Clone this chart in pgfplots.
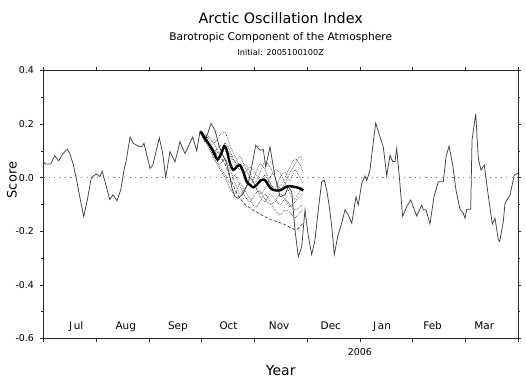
\documentclass[border=0pt]{standalone}
\usepackage{fontspec}
\setmainfont{DejaVu Sans}
\usepackage{pgfplots}
\pgfplotsset{compat=1.18}
\usepackage{pgfplotstable}

% x is measured in months from 1 July 2005
\pgfplotstableread{
m v
0.000 0.059
0.034 0.051
0.137 0.051
0.212 0.082
0.288 0.063
0.370 0.090
0.451 0.107
0.497 0.090
0.560 0.053
0.622 -0.002
0.687 -0.071
0.763 -0.145
0.831 -0.083
0.907 0.000
1.002 0.014
1.066 0.004
1.115 0.024
1.191 -0.033
1.256 -0.081
1.318 -0.064
1.394 -0.086
1.464 -0.046
1.527 0.029
1.571 0.066
1.641 0.152
1.703 0.128
1.798 0.118
1.863 0.115
1.906 0.128
2.020 0.035
2.071 0.045
2.197 0.149
2.261 0.090
2.318 0.001
2.399 0.097
2.494 0.059
2.589 0.134
2.684 0.090
2.830 0.152
2.906 0.100
2.968 0.171
3.063 0.134
3.177 0.202
3.253 0.177
3.329 0.120
3.386 0.090
3.462 0.060
3.519 0.020
3.576 -0.040
3.633 -0.071
3.695 -0.077
3.784 -0.060
3.885 -0.020
3.949 0.040
4.025 0.121
4.107 0.103
4.169 0.105
4.215 0.041
4.296 0.115
4.391 0.004
4.486 -0.071
4.581 -0.064
4.643 -0.033
4.708 -0.052
4.770 -0.195
4.833 -0.294
4.898 -0.257
4.960 -0.120
5.023 -0.219
5.087 -0.287
5.150 -0.232
5.212 -0.120
5.277 -0.015
5.326 -0.009
5.372 -0.046
5.421 -0.108
5.467 -0.182
5.516 -0.287
5.580 -0.219
5.656 -0.170
5.719 -0.120
5.782 -0.139
5.846 -0.170
5.928 -0.071
5.971 -0.102
6.036 -0.021
6.098 0.006
6.131 -0.011
6.193 0.029
6.237 0.103
6.301 0.204
6.383 0.152
6.445 0.115
6.510 0.007
6.572 0.084
6.624 0.060
6.667 0.060
6.700 0.109
6.749 0.004
6.813 -0.145
6.889 -0.108
6.965 -0.083
7.079 -0.143
7.174 -0.102
7.204 -0.120
7.255 -0.120
7.331 -0.172
7.407 -0.071
7.489 -0.015
7.583 -0.015
7.635 0.078
7.692 0.118
7.762 0.047
7.824 -0.046
7.900 -0.118
7.963 -0.133
7.995 -0.151
8.027 -0.118
8.103 -0.118
8.128 0.140
8.198 0.239
8.247 0.072
8.299 0.028
8.361 0.047
8.426 -0.052
8.513 -0.173
8.564 -0.151
8.627 -0.232
8.653 -0.238
8.721 -0.164
8.754 -0.095
8.849 -0.064
8.930 0.010
8.995 0.016
}\observed

% ensemble members started 2005-10-01 00Z
\pgfplotstableread{
m a b c d e f g
2.968 0.17 0.17 0.17 0.17 0.17 0.17 0.17
3.063 0.16 0.15 0.15 0.15 0.16 0.14 0.16
3.158 0.14 0.11 0.13 0.11 0.12 0.10 0.15
3.253 0.13 0.06 0.10 0.08 0.10 0.07 0.12
3.348 0.16 0.05 0.09 0.04 0.12 0.03 0.09
3.443 0.17 0.07 0.10 0.01 0.11 0.00 0.13
3.538 0.12 0.03 0.08 -0.02 0.09 -0.04 0.10
3.632 0.08 -0.02 0.05 0.01 0.06 -0.06 0.06
3.727 0.04 -0.06 0.03 -0.03 0.04 -0.02 0.08
3.822 0.01 -0.04 0.05 -0.07 0.02 -0.05 0.04
3.917 -0.03 0.00 0.02 -0.09 0.04 -0.08 0.00
4.012 0.01 -0.03 -0.03 -0.06 0.02 -0.11 -0.02
4.107 0.05 -0.06 -0.07 -0.05 -0.01 -0.09 0.02
4.201 0.03 -0.04 -0.09 -0.08 0.01 -0.06 0.06
4.296 -0.02 0.00 -0.06 -0.10 -0.02 -0.09 0.04
4.391 -0.05 0.03 -0.08 -0.09 -0.04 -0.12 0.00
4.486 -0.03 0.02 -0.10 -0.06 0.00 -0.14 -0.04
4.581 0.00 -0.02 -0.08 -0.08 0.02 -0.12 -0.02
4.676 0.04 -0.06 -0.11 -0.10 -0.01 -0.13 0.02
4.770 0.07 -0.08 -0.09 -0.12 0.03 -0.15 0.05
4.865 0.05 -0.05 -0.07 -0.11 0.00 -0.13 0.08
4.922 0.02 -0.03 -0.06 -0.10 -0.02 -0.12 0.06
}\members

\pgfplotstableread{
m v
2.968 0.17
3.082 0.14
3.196 0.11
3.310 0.08
3.424 0.06
3.538 0.00
3.671 -0.06
3.823 -0.10
4.013 -0.125
4.146 -0.14
4.297 -0.155
4.448 -0.165
4.581 -0.175
4.714 -0.19
4.808 -0.193
4.922 -0.17
}\lowmember

\pgfplotstableread{
m v
2.968 0.171
3.001 0.167
3.063 0.146
3.126 0.128
3.190 0.109
3.253 0.084
3.304 0.068
3.367 0.088
3.429 0.118
3.475 0.103
3.538 0.053
3.600 0.029
3.665 0.041
3.727 0.047
3.790 0.022
3.854 -0.015
3.917 -0.027
3.980 -0.036
4.044 -0.027
4.126 -0.009
4.201 -0.009
4.264 -0.027
4.328 -0.043
4.423 -0.048
4.505 -0.046
4.581 -0.036
4.662 -0.031
4.727 -0.033
4.803 -0.036
4.865 -0.040
4.928 -0.048
}\ensmean

\begin{document}
\begin{tikzpicture}
\useasboundingbox (0,0) rectangle (526bp,383bp);
\begin{axis}[
  at={(43.5bp,44.5bp)}, anchor=south west,
  scale only axis, width=474.5bp, height=268bp,
  xmin=0, xmax=9, ymin=-0.6, ymax=0.4,
  clip mode=individual,
  axis line style={black!85, line width=0.8pt},
  tick align=outside, xtick pos=both, ytick pos=both,
  major tick length=3bp, minor tick length=2bp,
  tick style={black!85, line width=0.6pt},
  xtick={0,1,2,3,4,5,6,7,8,9},
  xticklabels={,,,,,,2006,,,},
  xticklabel style={font=\fontsize{9.5}{11}\selectfont, anchor=base, yshift=-14bp},
  extra x ticks={0.62,1.56,2.55,3.51,4.47,5.45,6.42,7.38,8.36},
  extra x tick labels={J\,ul,Aug,Sep,Oct,Nov,Dec,J\,an,Feb,Mar},
  extra x tick style={major tick length=0pt,
    xticklabel style={font=\fontsize{10.5}{12}\selectfont, anchor=base, yshift=23.1bp}},
  ytick={-0.6,-0.4,-0.2,0,0.2,0.4},
  yticklabels={-0.6,-0.4,-0.2,0.0,0.2,0.4},
  minor ytick={-0.5,-0.3,-0.1,0.1,0.3},
  yticklabel style={font=\fontsize{9.5}{11}\selectfont, anchor=east, xshift=-3bp},
  xlabel={Year},
  xlabel style={font=\fontsize{14}{16}\selectfont, at={(rel axis cs:0.5,0)}, anchor=base, yshift=-36.5bp},
  ylabel={Score},
  ylabel style={font=\fontsize{13}{15}\selectfont, at={(rel axis cs:0,0.591)}, anchor=center, yshift=31.5bp},
]
% zero reference
\addplot[gray, line width=0.7pt, dash pattern=on 1.2pt off 4.2pt, forget plot] coordinates {(0,0) (9,0)};
% ensemble members
\foreach \c in {a,b,c,d,e,f,g}{
  \addplot[black!80, line width=0.6pt, dash pattern=on 0.7pt off 1.1pt, smooth, tension=0.4] table[x=m, y=\c] {\members};
}
\addplot[black!85, line width=0.6pt, dash pattern=on 3pt off 2pt, smooth, tension=0.4] table[x=m, y=v] {\lowmember};
% observed index
\addplot[black!75, line width=0.75pt] table[x=m, y=v] {\observed};
% ensemble mean
\addplot[black, line width=2.4pt, smooth, tension=0.5] table[x=m, y=v] {\ensmean};

\node[font=\fontsize{14.4}{16}\selectfont, anchor=base] at (rel axis cs:0.5,1) [yshift=47.4bp] {Arctic Oscillation Index};
\node[font=\fontsize{10.7}{12}\selectfont, anchor=base] at (rel axis cs:0.5,1) [yshift=29.7bp] {Barotropic Component of the Atmosphere};
\node[font=\fontsize{8.2}{10}\selectfont, anchor=base] at (rel axis cs:0.5,1) [yshift=14.7bp] {Initial: 2005100100Z};
\end{axis}
\end{tikzpicture}
\end{document}
